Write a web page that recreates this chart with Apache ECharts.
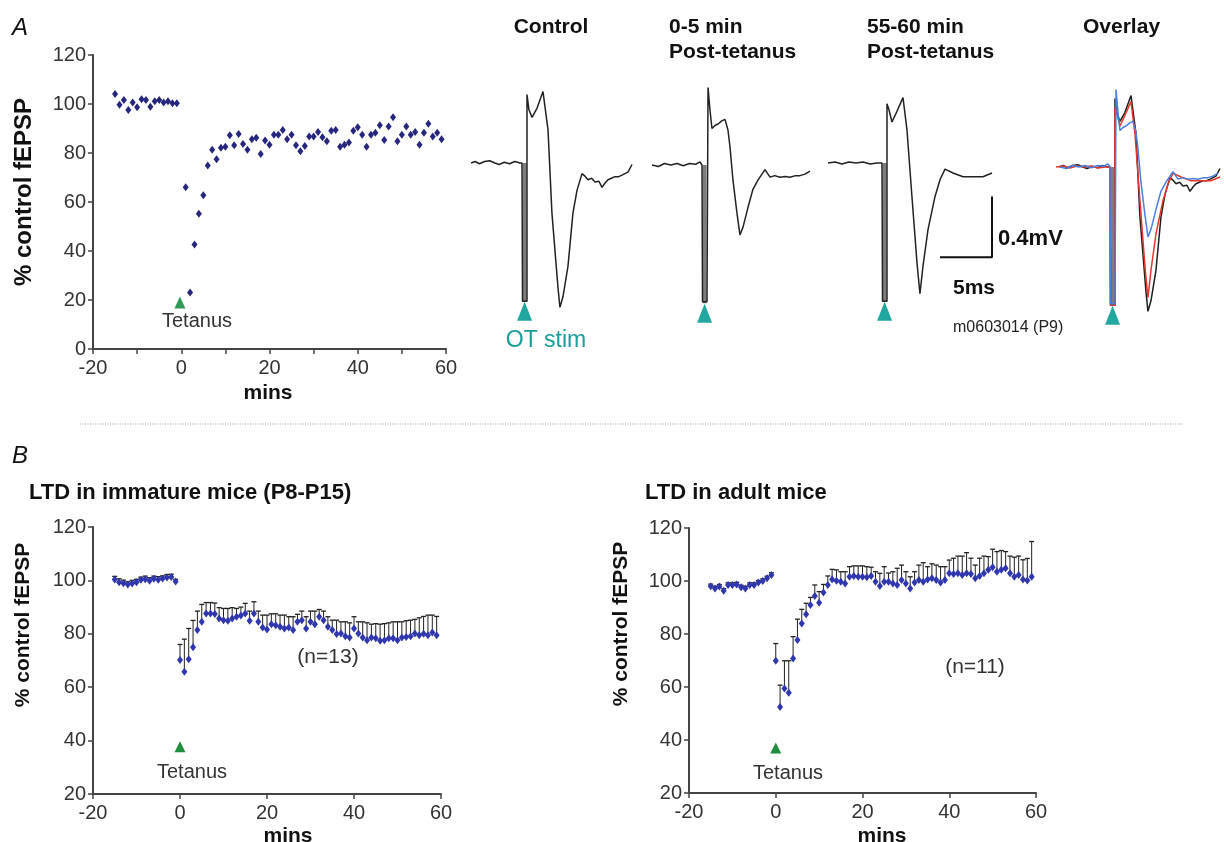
<!DOCTYPE html>
<html><head><meta charset="utf-8">
<script src="https://cdn.jsdelivr.net/npm/echarts@6/dist/echarts.min.js"></script>
<style>html,body{margin:0;padding:0;background:#fff}#c{width:1224px;height:842px}</style>
</head><body><div id="c"></div>
<script>
// ---------- Panel A: single experiment (% control fEPSP vs mins) ----------
var aTimes = [-15,-14,-13,-12,-11,-10,-9,-8,-7,-6,-5,-4,-3,-2,-1,
  1,2,3,4,5,6,7,8,9,10,11,12,13,14,15,16,17,18,19,20,21,22,23,24,25,26,27,28,29,30,
  31,32,33,34,35,36,37,38,39,40,41,42,43,44,45,46,47,48,49,50,51,52,53,54,55,56,57,58,59];
var aValues = [104.1,99.7,101.6,97.6,100.6,98.7,101.9,101.6,98.9,101.1,101.6,100.6,101.1,100.3,100.3,
  66.0,23.1,42.7,55.2,62.8,74.9,81.3,77.5,82.1,82.6,87.2,83.2,87.8,83.7,81.3,85.6,86.2,79.6,85.1,83.4,
  87.5,87.5,89.4,85.6,87.5,83.2,80.7,82.9,86.7,86.7,88.6,86.4,84.8,89.1,89.4,82.6,83.4,84.3,89.1,90.5,
  87.5,82.6,87.5,88.3,91.3,85.3,90.8,94.6,84.8,87.5,90.8,87.5,88.6,83.4,88.3,91.9,86.7,88.3,85.6];
var aTetanus = [-0.3, 19];
var aXTickLabels = [-20, 0, 20, 40, 60];
var aYTickLabels = [0, 20, 40, 60, 80, 100, 120];

// ---------- Example traces: [ms, mV] relative to stimulus and baseline ----------
var controlTrace = [[-4.9,0],[-4.5,0.01],[-4.1,-0.005],[-3.6,0.01],[-3.1,0.015],[-2.6,0],[-2.2,-0.01],[-1.7,0.005],[-1.2,-0.005],[-0.7,0.01],[-0.2,0],[0,0],
  [0.05,-0.91],[0.48,-0.91],[0.48,0.45],[0.67,0.35],[0.96,0.30],[1.44,0.36],[2.02,0.47],[2.5,0.22],[2.88,-0.33],[3.46,-0.82],[3.65,-0.95],[3.94,-0.88],
  [4.42,-0.68],[4.9,-0.33],[5.29,-0.18],[5.77,-0.07],[6.1,-0.09],[6.35,-0.11],[6.7,-0.10],[7.02,-0.125],[7.4,-0.12],[7.69,-0.16],[8.0,-0.13],[8.27,-0.11],
  [8.6,-0.10],[8.94,-0.09],[9.3,-0.09],[9.62,-0.08],[9.9,-0.07],[10.19,-0.06],[10.58,-0.01]];
var post05Trace = [[-4.8,0],[-4.2,-0.01],[-3.6,0.01],[-3.0,0],[-2.4,0.01],[-1.8,-0.005],[-1.2,0.01],[-0.6,0.005],[-0.2,0.02],[0,0],
  [0.05,-0.9],[0.48,-0.9],[0.58,0.51],[0.77,0.36],[0.96,0.24],[1.25,0.26],[1.54,0.27],[1.9,0.29],[2.21,0.30],[2.5,0.23],[2.69,0.12],[2.98,-0.10],
  [3.37,-0.32],[3.65,-0.46],[3.94,-0.41],[4.42,-0.28],[4.9,-0.16],[5.38,-0.10],[6.06,-0.03],[6.54,-0.08],[7.0,-0.07],[7.5,-0.08],[8.0,-0.075],
  [8.46,-0.08],[9.0,-0.07],[9.42,-0.07],[9.9,-0.06],[10.38,-0.04]];
var post5560Trace = [[-5.19,0],[-4.52,0.007],[-3.85,-0.007],[-3.17,0.007],[-2.5,0],[-1.83,0.007],[-1.15,-0.007],[-0.48,0],[0,0],
  [0.05,-0.91],[0.48,-0.91],[0.48,0.39],[0.67,0.35],[0.96,0.27],[1.44,0.34],[2.02,0.43],[2.4,0.22],[2.88,-0.22],[3.37,-0.66],[3.65,-0.86],[3.94,-0.68],
  [4.42,-0.44],[5.1,-0.22],[5.58,-0.11],[6.06,-0.04],[6.83,-0.066],[7.79,-0.09],[8.75,-0.09],[9.71,-0.09],[10.58,-0.066]];
var stimArtifact = [[0.25,0],[0.25,-0.91]];
var stimMarker = [0.25, -0.975];
var scaleBarOrigin = [10.58, -0.62];   // corner of the L-shaped scale bar (ms, mV)
var scaleBarMs = 5;
var scaleBarMv = 0.4;

// ---------- Panel B left: immature mice (n=13) ----------
var bLTimes = [-15,-14,-13,-12,-11,-10,-9,-8,-7,-6,-5,-4,-3,-2,-1,
  0,1,2,3,4,5,6,7,8,9,10,11,12,13,14,15,16,17,18,19,20,21,22,23,24,25,26,27,28,29,
  30,31,32,33,34,35,36,37,38,39,40,41,42,43,44,45,46,47,48,49,50,51,52,53,54,55,56,57,58,59];
var bLMeans = [100.3,99.3,98.9,98.5,98.8,99.3,100.2,100.4,99.9,100.6,100.2,100.7,101.1,101.3,99.6,
  70.2,65.8,70.5,75.0,81.4,84.5,87.6,87.6,87.4,85.7,85.1,84.9,85.7,86.4,86.9,87.6,84.9,87.6,84.5,82.4,
  81.6,83.6,83.2,82.6,82.0,82.4,81.4,84.5,85.1,82.0,84.5,83.6,86.4,85.1,82.6,81.4,79.9,80.1,79.1,78.6,
  82.0,80.1,78.6,77.6,78.6,78.3,77.4,77.6,78.3,78.3,77.6,78.6,78.8,79.1,80.1,79.5,80.0,79.5,80.5,79.5];
var bLSem = [1.2,1.3,1.2,1.0,1.2,1.1,1.0,1.2,1.1,1.0,1.2,1.0,1.1,1.0,0.8,
  5.8,12.2,11.5,10.0,7.1,6.5,4.1,4.1,4.1,4.1,4.4,4.6,4.1,3.1,3.1,3.8,3.6,4.4,4.0,4.6,
  5.4,3.9,4.3,4.4,5.0,4.0,5.0,2.8,3.4,4.4,4.0,4.9,2.7,3.4,3.8,3.7,5.2,4.4,5.4,5.5,
  4.4,4.4,5.9,6.5,5.0,5.5,6.2,6.2,5.8,6.2,6.9,5.9,6.1,6.0,5.3,6.5,6.5,7.5,6.5,7.0];
var bLTetanus = [0, 37.7];

// ---------- Panel B right: adult mice (n=11) ----------
var bRTimes = bLTimes.slice();
var bRMeans = [98.0,97.2,97.9,96.3,98.5,98.5,98.7,97.6,97.2,98.5,98.5,99.4,100.0,101.0,102.3,
  69.9,52.5,59.4,57.8,70.8,77.7,84.0,87.5,90.9,94.3,91.8,95.7,98.5,100.6,100.1,99.7,99.1,101.6,101.9,101.6,
  101.6,101.4,101.9,99.7,98.1,99.7,99.7,99.1,98.5,100.4,99.1,97.2,99.4,100.4,99.7,100.6,101.0,100.4,99.4,100.4,
  102.9,102.6,102.9,102.3,102.9,102.6,101.0,101.9,102.9,104.2,105.2,103.5,104.2,104.8,102.9,101.6,102.3,100.6,100.2,101.6];
var bRSem = [0.8,0.8,0.8,0.8,0.8,0.8,0.8,0.8,0.8,0.8,0.8,0.8,0.8,0.8,0.8,
  6.5,8.2,10.5,12.1,8.2,7.9,5.3,4.1,2.9,4.2,4.2,3.0,3.4,3.8,4.1,3.8,4.4,3.8,3.8,4.1,
  4.1,4.0,3.3,3.8,4.8,5.7,3.3,4.4,6.3,5.6,4.4,4.4,4.1,5.6,7.2,4.8,5.5,5.6,6.0,5.0,
  5.0,6.0,6.5,7.1,7.8,6.0,5.0,6.7,6.5,5.0,6.8,7.6,7.3,6.3,6.5,7.4,7.1,7.4,8.3,13.3];
var bRTetanus = [0, 37];
var bXTickLabels = [-20, 0, 20, 40, 60];
var bYTickLabels = [20, 40, 60, 80, 100, 120];

// ---------- build ----------
var FONT = '"Liberation Sans", Arial, sans-serif';
function zip(xs, ys) { return xs.map(function (x, i) { return [x, ys[i]]; }); }
function zipErr(xs, m, s) { return xs.map(function (x, i) { return [x, m[i], m[i] + s[i]]; }); }

function dataAxisX(gi, labels, interval) {
  return {
    type: 'value', gridIndex: gi, min: -20, max: 60, interval: interval,
    axisLine: { onZero: false, lineStyle: { color: '#444', width: 2 } },
    axisTick: { show: true, length: 5, lineStyle: { color: '#444', width: 1.5 } },
    splitLine: { show: false },
    axisLabel: { margin: 9, color: '#333', fontSize: 20, fontFamily: FONT,
      formatter: function (v) { return labels.indexOf(v) >= 0 ? String(v) : ''; } }
  };
}
function dataAxisY(gi, min, max) {
  return {
    type: 'value', gridIndex: gi, min: min, max: max, interval: 20,
    axisLine: { show: true, onZero: false, lineStyle: { color: '#444', width: 2 } },
    axisTick: { show: true, length: 5, lineStyle: { color: '#444', width: 1.5 } },
    splitLine: { show: false },
    axisLabel: { margin: 7, color: '#333', fontSize: 20, fontFamily: FONT }
  };
}
function hiddenX(gi) { return { type: 'value', gridIndex: gi, min: -5.5, max: 10.8, show: false, splitLine: { show: false } }; }
function hiddenY(gi) { return { type: 'value', gridIndex: gi, min: -1.2, max: 0.7, show: false, splitLine: { show: false } }; }

var TR_W = 169.5, TR_H = 288.8;
var grids = [
  { left: 93, top: 55, width: 353, height: 294 },
  { left: 464.8, top: 56.6, width: TR_W, height: TR_H },
  { left: 644.8, top: 58.6, width: TR_W, height: TR_H },
  { left: 824.8, top: 56.6, width: TR_W, height: TR_H },
  { left: 1052.8, top: 60.6, width: TR_W, height: TR_H },
  { left: 93, top: 527, width: 348, height: 267 },
  { left: 689, top: 528, width: 347, height: 265 }
];

var xAxes = [dataAxisX(0, aXTickLabels, 10), hiddenX(1), hiddenX(2), hiddenX(3), hiddenX(4),
  dataAxisX(5, bXTickLabels, 20), dataAxisX(6, bXTickLabels, 20)];
var yAxes = [dataAxisY(0, 0, 120), hiddenY(1), hiddenY(2), hiddenY(3), hiddenY(4),
  dataAxisY(5, 20, 120), dataAxisY(6, 20, 120)];

var series = [];
series.push({ type: 'scatter', xAxisIndex: 0, yAxisIndex: 0, data: zip(aTimes, aValues),
  symbol: 'diamond', symbolSize: [6, 8], itemStyle: { color: '#26267f', opacity: 1 }, z: 3 });
series.push({ type: 'scatter', xAxisIndex: 0, yAxisIndex: 0, data: [aTetanus],
  symbol: 'triangle', symbolSize: [11, 12], itemStyle: { color: '#2e9a55', opacity: 1 } });

function traceLine(gi, data, color, z) {
  return { type: 'line', xAxisIndex: gi, yAxisIndex: gi, data: data, symbol: 'none', silent: true,
    lineStyle: { color: color, width: 1.5 }, z: z || 3 };
}
function artifact(gi) {
  return { type: 'line', xAxisIndex: gi, yAxisIndex: gi, data: stimArtifact, symbol: 'none', silent: true,
    lineStyle: { color: '#7d7d7d', width: 4 }, z: 2 };
}
function stimTri(gi) {
  return { type: 'scatter', xAxisIndex: gi, yAxisIndex: gi, data: [stimMarker], symbol: 'triangle',
    symbolSize: [15, 19], itemStyle: { color: '#22a7a0', opacity: 1 }, z: 4 };
}
[[1, controlTrace], [2, post05Trace], [3, post5560Trace]].forEach(function (p) {
  series.push(artifact(p[0]));
  series.push(traceLine(p[0], p[1], '#222'));
  series.push(stimTri(p[0]));
});
series.push(artifact(4));
series.push(traceLine(4, controlTrace, '#1e1e1e', 3));
series.push(traceLine(4, post5560Trace, '#e8352c', 4));
series.push(traceLine(4, post05Trace, '#4a7fe0', 5));
series.push(stimTri(4));
// scale bar (5 ms x 0.4 mV) in the 55-60 min trace coordinates
series.push({ type: 'line', xAxisIndex: 3, yAxisIndex: 3, symbol: 'none', silent: true,
  data: [[scaleBarOrigin[0] - scaleBarMs, scaleBarOrigin[1]], scaleBarOrigin, [scaleBarOrigin[0], scaleBarOrigin[1] + scaleBarMv]],
  lineStyle: { color: '#111', width: 2 } });

function errRender(params, api) {
  var p0 = api.coord([api.value(0), api.value(1)]);
  var p1 = api.coord([api.value(0), api.value(2)]);
  var w = 2.5;
  return { type: 'group', children: [
    { type: 'line', shape: { x1: p0[0], y1: p0[1], x2: p1[0], y2: p1[1] }, style: { stroke: '#222', lineWidth: 1 } },
    { type: 'line', shape: { x1: p1[0] - w, y1: p1[1], x2: p1[0] + w, y2: p1[1] }, style: { stroke: '#222', lineWidth: 1.3 } }
  ] };
}
[[5, bLTimes, bLMeans, bLSem, bLTetanus], [6, bRTimes, bRMeans, bRSem, bRTetanus]].forEach(function (p) {
  series.push({ type: 'custom', xAxisIndex: p[0], yAxisIndex: p[0], renderItem: errRender,
    data: zipErr(p[1], p[2], p[3]), encode: { x: 0, y: [1, 2] }, silent: true, z: 2 });
  series.push({ type: 'scatter', xAxisIndex: p[0], yAxisIndex: p[0], data: zip(p[1], p[2]),
    symbol: 'diamond', symbolSize: [6, 8], itemStyle: { color: '#3036ad', opacity: 1 }, z: 3 });
  series.push({ type: 'scatter', xAxisIndex: p[0], yAxisIndex: p[0], data: [p[4]],
    symbol: 'triangle', symbolSize: [11, 11], itemStyle: { color: '#1f8f3f', opacity: 1 } });
});

function txt(x, y, text, font, opts) {
  opts = opts || {};
  return { type: 'text', x: x, y: y, rotation: opts.rot || 0, silent: true,
    style: { text: text, font: font + ' ' + FONT, fill: opts.fill || '#111',
      textAlign: opts.align || 'left', textVerticalAlign: 'middle' } };
}
var graphics = [
  { type: 'line', silent: true, shape: { x1: 80, y1: 424, x2: 1183, y2: 424 },
    style: { stroke: '#9a9a9a', lineWidth: 1, lineDash: [1, 1.5] } },
  txt(12, 28, 'A', 'italic 24px'),
  txt(12, 456, 'B', 'italic 24px'),
  txt(24, 192, '% control fEPSP', 'bold 24px', { rot: Math.PI / 2, align: 'center' }),
  txt(23, 625, '% control fEPSP', 'bold 21px', { rot: Math.PI / 2, align: 'center' }),
  txt(621, 624, '% control fEPSP', 'bold 21px', { rot: Math.PI / 2, align: 'center' }),
  txt(268, 393, 'mins', 'bold 21px', { align: 'center' }),
  txt(288, 836, 'mins', 'bold 21px', { align: 'center' }),
  txt(882, 836, 'mins', 'bold 21px', { align: 'center' }),
  txt(197, 321, 'Tetanus', '20px', { align: 'center', fill: '#333' }),
  txt(192, 772, 'Tetanus', '20px', { align: 'center', fill: '#333' }),
  txt(788, 773, 'Tetanus', '20px', { align: 'center', fill: '#333' }),
  txt(551, 27, 'Control', 'bold 21px', { align: 'center' }),
  txt(669, 27, '0-5 min', 'bold 21px'),
  txt(669, 52, 'Post-tetanus', 'bold 21px'),
  txt(867, 27, '55-60 min', 'bold 21px'),
  txt(867, 52, 'Post-tetanus', 'bold 21px'),
  txt(1083, 27, 'Overlay', 'bold 21px'),
  txt(546, 341, 'OT stim', '23px', { align: 'center', fill: '#1a9e9a' }),
  txt(998, 239, '0.4mV', 'bold 22px'),
  txt(953, 288, '5ms', 'bold 21px'),
  txt(953, 328, 'm0603014 (P9)', '16px', { fill: '#222' }),
  txt(29, 493, 'LTD in immature mice (P8-P15)', 'bold 22px'),
  txt(645, 493, 'LTD in adult mice', 'bold 22px'),
  txt(328, 657, '(n=13)', '21px', { align: 'center', fill: '#333' }),
  txt(975, 667, '(n=11)', '21px', { align: 'center', fill: '#333' })
];

var chart = echarts.init(document.getElementById('c'), null, { renderer: 'canvas' });
chart.setOption({
  animation: false,
  backgroundColor: '#fff',
  grid: grids,
  xAxis: xAxes,
  yAxis: yAxes,
  series: series,
  graphic: graphics
});
</script></body></html>
